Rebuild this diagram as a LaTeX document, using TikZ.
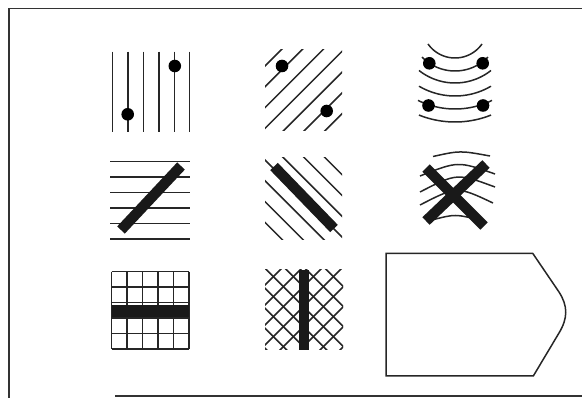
\documentclass[tikz,border=0pt]{standalone}
\begin{document}
\begin{tikzpicture}[x=1pt,y=-1pt,
  ln/.style={line width=1.5pt,black!85},
  frame/.style={line width=1.3pt,black!80},
  bar/.style={line width=10.5pt,black!90},
  blob/.style={fill=black}]
\useasboundingbox (0,0) rectangle (582,398);
% frame
\draw[frame] (582,8.5) -- (9,8.5) -- (9,398);
\draw[frame] (115,396) -- (582,396);

% panel 1: vertical lines with dots
\foreach \i in {0,...,5}
  \draw[ln] ({112.7+15.4*\i},51.7) -- ({112.7+15.4*\i},131.7);
\fill[blob] (127.7,114.3) circle (6.3);
\fill[blob] (174.8,66) circle (6.3);

% panel 2: diagonal lines with dots
\begin{scope}
  \clip (265,50) rectangle (342,131);
  \foreach \i in {0,...,6}
    \draw[ln] ({331+20.8*\i-40},40) -- ({331+20.8*\i-140},140);
\end{scope}
\fill[blob] (282,66) circle (6.3);
\fill[blob] (326.7,111) circle (6.3);

% panel 3: concentric arcs with dots
\foreach \R/\w in {33/27,46/33,58/36,71/36,84/37,97/36}{
  \pgfmathsetmacro\a{asin(\w/\R)}
  \draw[ln] plot[domain=-\a:\a, samples=30, smooth] ({455+\R*sin(\x)},{25+\R*cos(\x)});
}
\fill[blob] (429.3,63.3) circle (6.3);
\fill[blob] (482.7,63.3) circle (6.3);
\fill[blob] (428.5,105.5) circle (6.3);
\fill[blob] (483,105.5) circle (6.3);

% panel 4: horizontal lines with bar
\foreach \i in {0,...,5}
  \draw[ln] (110,{161.7+15.5*\i}) -- (190,{161.7+15.5*\i});
\draw[bar] (121,230) -- (181,166);

% panel 5: diagonal lines with bar
\begin{scope}
  \clip (265,158) rectangle (342,240);
  \foreach \i in {-3,...,3}
    \draw[ln] ({105+20.8*\i+150},150) -- ({105+20.8*\i+250},250);
\end{scope}
\draw[bar] (274,166.5) -- (334,228.5);

% panel 6: arcs with cross
\draw[ln] (433,156.5) .. controls (460,150.5) .. (490,156);
\draw[ln] (420,176) .. controls (458,161) .. (495,174);
\draw[ln] (420,192) .. controls (457,173) .. (495,187);
\draw[ln] (420,205) .. controls (457,186) .. (493,203);
\draw[ln] (432,220) .. controls (455,214) .. (480,220);
\draw[bar] (426,168) -- (484,226);
\draw[bar] (486,164) -- (426,221);

% panel 7: grid with horizontal bar
\foreach \i in {0,...,5}{
  \draw[ln] ({111.7+15.5*\i},271.7) -- ({111.7+15.5*\i},349.3);
  \draw[ln] (111.7,{271.7+15.5*\i}) -- (189.3,{271.7+15.5*\i});
}
\fill[black!90] (111.7,305) rectangle (189.3,316.7);

% panel 8: cross hatch with vertical bar
\begin{scope}
  \clip (265,270) rectangle (343,350);
  \foreach \k in {-5,...,4}
    \draw[ln] ({-3.3+20*\k+260},260) -- ({-3.3+20*\k+360},360);
  \foreach \k in {-1,...,8}
    \draw[ln] ({550+20*\k-260},260) -- ({550+20*\k-360},360);
\end{scope}
\fill[black!90] (299,270) rectangle (309,350);

% panel 9: pointed shape
\draw[line width=1.5pt,black!85] (532.7,253.3) -- (386,253.3) -- (386,376) -- (533.3,376)
  -- (559,333) .. controls (568,318) and (568,306) .. (559,292) -- cycle;
\end{tikzpicture}
\end{document}
